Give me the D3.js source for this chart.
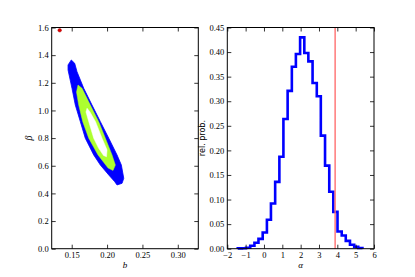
<!DOCTYPE html>
<html>
<head>
<meta charset="utf-8">
<script src="https://cdn.jsdelivr.net/npm/d3@7"></script>
<style>
  html, body { margin: 0; padding: 0; background: #fff; }
  svg { display: block; }
  .tick text { font-family: "Liberation Serif", "DejaVu Serif", serif; font-size: 8.5px; fill: #000; }
</style>
</head>
<body>
<svg id="chart" width="415" height="277"></svg>
<script>
// ---------- Data ----------
// Left panel: 2D posterior contours of (b, beta), polygons in data coordinates
const contourOuter = [ // blue region
  [0.1494,1.365],[0.1542,1.341],[0.1575,1.280],[0.1670,1.160],[0.1787,1.039],
  [0.1905,0.919],[0.2024,0.799],[0.2141,0.678],[0.2202,0.605],[0.2236,0.509],
  [0.2212,0.473],[0.2141,0.461],[0.2108,0.485],[0.2024,0.533],[0.1905,0.605],
  [0.1811,0.678],[0.1692,0.799],[0.1622,0.919],[0.1551,1.039],[0.1504,1.160],
  [0.1448,1.293],[0.1448,1.329]
];
const contourMiddle = [ // yellow-green region
  [0.1589,1.184],[0.1646,1.160],[0.1763,1.039],[0.1882,0.919],[0.1976,0.799],
  [0.2070,0.678],[0.2117,0.605],[0.2084,0.566],[0.2014,0.584],[0.1872,0.678],
  [0.1741,0.799],[0.1656,0.919],[0.1599,1.039],[0.1568,1.133]
];
const contourInner = [ // white region
  [0.1717,1.016],[0.1759,0.989],[0.1837,0.919],[0.1929,0.799],[0.2000,0.714],
  [0.1992,0.665],[0.1950,0.674],[0.1879,0.728],[0.1811,0.799],[0.1741,0.919],
  [0.1702,0.989]
];
const truePoint = [0.133, 1.58];   // red marker (b, beta)

const bTicks = [0.15, 0.20, 0.25, 0.30];
const betaTicks = [0.0, 0.2, 0.4, 0.6, 0.8, 1.0, 1.2, 1.4, 1.6];

// Right panel: histogram of alpha
const alphaEdges = [-1.43,-1.20,-0.98,-0.75,-0.52,-0.30,-0.07,0.16,0.38,0.61,0.84,
  1.06,1.29,1.52,1.74,1.97,2.20,2.42,2.65,2.88,3.10,3.33,3.56,3.78,4.01,4.24,
  4.46,4.69,4.92,5.14,5.37];
const relProb = [0.0007,0.0009,0.002,0.006,0.012,0.020,0.033,0.059,0.092,0.136,
  0.187,0.264,0.321,0.370,0.396,0.430,0.398,0.381,0.337,0.310,0.230,0.169,0.116,
  0.075,0.035,0.027,0.016,0.008,0.004,0.0014];
const alphaTrue = 3.88;            // red vertical line

const alphaTicks = [-2,-1,0,1,2,3,4,5,6];
const probTicks = [0,0.05,0.10,0.15,0.20,0.25,0.30,0.35,0.40,0.45];

// ---------- Layout ----------
const svg = d3.select("#chart");
const yTop = 27.5, yBot = 248.7;
const L = {x0: 51.7, x1: 198.3};
const R = {x0: 227.3, x1: 374};

const xb = d3.scaleLinear().domain([0.1217, 0.329]).range([L.x0, L.x1]);
const yb = d3.scaleLinear().domain([0, 1.6]).range([yBot, yTop]);
const xa = d3.scaleLinear().domain([-2, 6]).range([R.x0, R.x1]);
const ya = d3.scaleLinear().domain([0, 0.45]).range([yBot, yTop]);

const fmtMinus = d => d3.format("d")(d).replace("-", "\u2212");

function frame(x, y, xt, yt, xfmt, yfmt) {
  const g = svg.append("g");
  const tl = 4;
  g.append("g").attr("transform", `translate(0,${yBot})`)
    .call(d3.axisBottom(x).tickValues(xt).tickFormat(xfmt).tickSizeInner(-tl).tickSizeOuter(0).tickPadding(3))
    .call(s => s.select(".domain").remove());
  g.append("g").attr("transform", `translate(0,${yTop})`)
    .call(d3.axisTop(x).tickValues(xt).tickFormat("").tickSizeInner(-tl).tickSizeOuter(0))
    .call(s => s.select(".domain").remove());
  g.append("g").attr("transform", `translate(${x.range()[0]},0)`)
    .call(d3.axisLeft(y).tickValues(yt).tickFormat(yfmt).tickSizeInner(-tl).tickSizeOuter(0).tickPadding(3))
    .call(s => s.select(".domain").remove());
  g.append("g").attr("transform", `translate(${x.range()[1]},0)`)
    .call(d3.axisRight(y).tickValues(yt).tickFormat("").tickSizeInner(-tl).tickSizeOuter(0))
    .call(s => s.select(".domain").remove());
  g.selectAll(".tick line").attr("stroke", "#000").attr("stroke-width", 0.8);
  g.append("rect")
    .attr("x", x.range()[0]).attr("y", yTop)
    .attr("width", x.range()[1] - x.range()[0]).attr("height", yBot - yTop)
    .attr("fill", "none").attr("stroke", "#000").attr("stroke-width", 1);
}

// ---------- Left panel ----------
const poly = d3.line().x(d => xb(d[0])).y(d => yb(d[1])).curve(d3.curveLinearClosed);
svg.append("path").attr("d", poly(contourOuter)).attr("fill", "#0000ff").attr("stroke", "#0000ff").attr("stroke-width", 0.8);
svg.append("path").attr("d", poly(contourMiddle)).attr("fill", "#adff2f").attr("stroke", "#adff2f").attr("stroke-width", 0.5);
svg.append("path").attr("d", poly(contourInner)).attr("fill", "#ffffff").attr("stroke", "#ffffff").attr("stroke-width", 0.5);

svg.append("circle").attr("cx", xb(truePoint[0])).attr("cy", yb(truePoint[1])).attr("r", 1.8)
  .attr("fill", "#e00000").attr("stroke", "#900").attr("stroke-width", 0.4);

frame(xb, yb, bTicks, betaTicks, d3.format(".2f"), d3.format(".1f"));

svg.append("text").attr("x", (L.x0 + L.x1) / 2).attr("y", 268)
  .attr("text-anchor", "middle").attr("font-family", "Liberation Serif, serif")
  .attr("font-style", "italic").attr("font-size", 9).text("b");
svg.append("text").attr("transform", `translate(32,${(yTop + yBot) / 2}) rotate(-90)`)
  .attr("text-anchor", "middle").attr("font-family", "Liberation Serif, serif")
  .attr("font-style", "italic").attr("font-size", 10).text("β");

// ---------- Right panel ----------
const pts = [[alphaEdges[0], 0]];
relProb.forEach((p, i) => { pts.push([alphaEdges[i], p]); pts.push([alphaEdges[i + 1], p]); });
pts.push([alphaEdges[alphaEdges.length - 1], 0]);
const hline = d3.line().x(d => xa(d[0])).y(d => ya(d[1]));
svg.append("path").attr("d", hline(pts)).attr("fill", "none")
  .attr("stroke", "#0000ff").attr("stroke-width", 2.6).attr("stroke-linejoin", "miter");

svg.append("line").attr("x1", xa(alphaTrue)).attr("x2", xa(alphaTrue))
  .attr("y1", ya(0.45)).attr("y2", ya(0))
  .attr("stroke", "#ff7070").attr("stroke-width", 1.4);

frame(xa, ya, alphaTicks, probTicks, fmtMinus, d3.format(".2f"));

svg.append("text").attr("x", (R.x0 + R.x1) / 2).attr("y", 268)
  .attr("text-anchor", "middle").attr("font-family", "Liberation Serif, serif")
  .attr("font-style", "italic").attr("font-size", 9).text("α");
svg.append("text").attr("transform", `translate(205,${(yTop + yBot) / 2}) rotate(-90)`)
  .attr("text-anchor", "middle").attr("font-family", "DejaVu Sans, sans-serif")
  .attr("font-size", 8).text("rel. prob.");
</script>
</body>
</html>
